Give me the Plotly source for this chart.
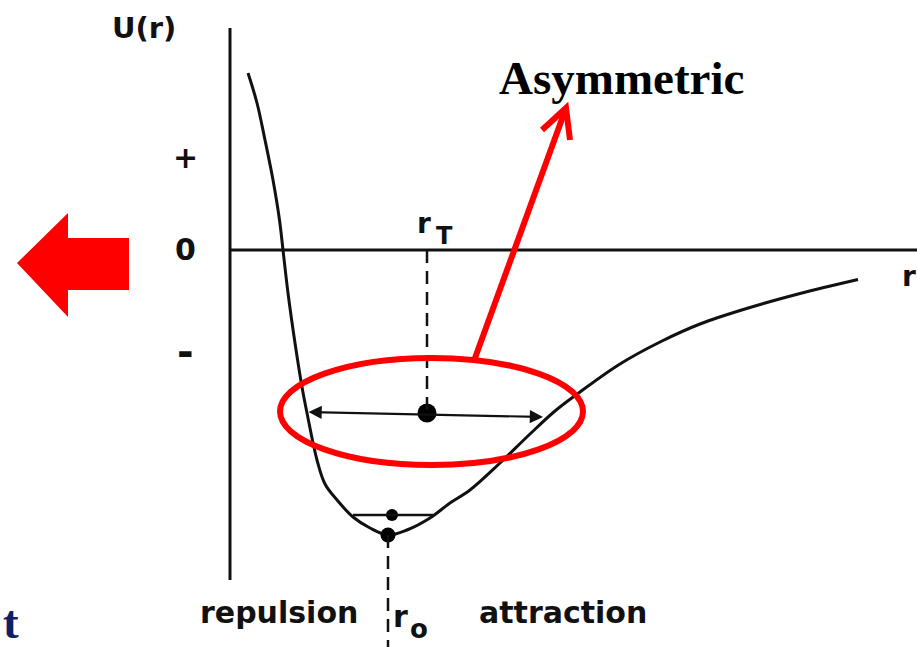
import plotly.graph_objects as go

# Potential-energy curve U(r) (r, U in arbitrary units)
r_curve = [0.16, 0.25, 0.33, 0.41, 0.475, 0.51, 0.56, 0.63, 0.70, 0.75, 0.85, 0.93, 1.05, 1.21, 1.38, 1.56,
           1.75, 1.98, 2.18, 2.38, 2.68, 2.98, 3.23, 3.48, 3.88, 4.28, 4.68, 5.18, 5.68, 6.26]
U_curve = [1.77, 1.47, 1.10, 0.70, 0.30, 0.00, -0.43, -0.93, -1.37, -1.63, -2.10, -2.34, -2.50, -2.67, -2.78, -2.85,
           -2.80, -2.68, -2.53, -2.40, -2.13, -1.84, -1.61, -1.42, -1.14, -0.92, -0.74, -0.575, -0.435, -0.295]

# Characteristic points
r0, U0 = 1.56, -2.85          # equilibrium (minimum)
rT, UT = 1.95, -1.63          # mean position at temperature T
r_vib0 = [1.21, 2.01]         # ground vibration level extent
U_vib0 = -2.65
r_vibT = [0.75, 3.11]         # vibration extent at T

# Axis tick labels
tick_labels = ["+", "0", "-"]
tick_U = [0.93, 0.01, -1.02]
tick_size = [30, 30, 40]

fig = go.Figure()

RED = "#ff0000"
INK = "#111111"
LBL = dict(family="DejaVu Sans", color=INK, weight="bold")

# Curve
fig.add_trace(go.Scatter(x=r_curve, y=U_curve, mode="lines",
                         line=dict(color=INK, width=3, shape="spline", smoothing=1.0),
                         hoverinfo="skip", showlegend=False))

# Axes
fig.add_shape(type="line", x0=-0.02, y0=2.22, x1=-0.02, y1=-3.30, line=dict(color=INK, width=3))
fig.add_shape(type="line", x0=-0.02, y0=0, x1=6.9, y1=0, line=dict(color=INK, width=3))

# Dashed guides
fig.add_shape(type="line", x0=rT, y0=0, x1=rT, y1=UT, line=dict(color=INK, width=2.5, dash="13px,8px"))
fig.add_shape(type="line", x0=r0, y0=U0, x1=r0, y1=-4.0, line=dict(color=INK, width=2.5, dash="13px,8px"))

# Ground level line
fig.add_shape(type="line", x0=r_vib0[0], y0=U_vib0, x1=r_vib0[1], y1=U_vib0, line=dict(color=INK, width=2.5))

# Double arrow at temperature T
fig.add_annotation(x=r_vibT[1], y=UT - 0.04, ax=r_vibT[0], ay=UT + 0.01, xref="x", yref="y", axref="x", ayref="y",
                   text="", showarrow=True, arrowhead=2, arrowsize=1.2, arrowwidth=2.2, arrowcolor=INK,
                   arrowside="end+start", startarrowhead=2, startarrowsize=1.2)

# Points
fig.add_trace(go.Scatter(x=[rT, 1.60, r0], y=[UT, U_vib0, U0], mode="markers",
                         marker=dict(color="#000000", size=[19, 12, 15], opacity=1, line=dict(width=0)),
                         hoverinfo="skip", showlegend=False))

# Red ellipse and arrow
fig.add_shape(type="circle", x0=0.48, y0=-2.15, x1=3.51, y1=-1.08, line=dict(color=RED, width=6))
fig.add_shape(type="line", x0=2.43, y0=-1.08, x1=3.34, y1=1.42, line=dict(color=RED, width=6))
fig.add_shape(type="path", path="M 3.10,1.20 L 3.34,1.42 L 3.38,1.10", line=dict(color=RED, width=6))

# Big red block arrow on the left
fig.add_shape(type="path",
              path="M -2.15,-0.13 L -1.64,0.37 L -1.64,0.12 L -1.03,0.12 L -1.03,-0.40 L -1.64,-0.40 L -1.64,-0.67 Z",
              fillcolor=RED, line=dict(color=RED, width=0))

# Labels
fig.add_annotation(x=-0.88, y=2.22, text="U(r)", showarrow=False, font=dict(size=29, **LBL))
for t, u, s in zip(tick_labels, tick_U, tick_size):
    fig.add_annotation(x=-0.47, y=u, text=t, showarrow=False, font=dict(size=s, **LBL))
fig.add_annotation(x=1.92, y=0.27, text="r", showarrow=False, font=dict(size=28, **LBL))
fig.add_annotation(x=2.12, y=0.14, text="T", showarrow=False, font=dict(size=24, **LBL))
fig.add_annotation(x=6.85, y=-0.26, text="r", showarrow=False, xanchor="right", borderpad=0,
                   font=dict(size=28, **LBL))
fig.add_annotation(x=0.47, y=-3.62, text="repulsion", showarrow=False, font=dict(size=30, **LBL))
fig.add_annotation(x=1.68, y=-3.66, text="r", showarrow=False, font=dict(size=30, **LBL))
fig.add_annotation(x=1.87, y=-3.79, text="o", showarrow=False, font=dict(size=26, **LBL))
fig.add_annotation(x=3.31, y=-3.62, text="attraction", showarrow=False, font=dict(size=30, **LBL))

fig.add_annotation(x=3.89, y=1.72, text="Asymmetric", showarrow=False,
                   font=dict(family="Liberation Serif", size=47, color="#000000", weight="bold"))
fig.add_annotation(x=-2.31, y=-3.72, text="t", showarrow=False, xanchor="left",
                   font=dict(family="Liberation Serif", size=47, color="#0d1f66", weight="bold"))

fig.update_layout(
    width=917, height=647,
    margin=dict(l=0, r=0, t=0, b=0),
    paper_bgcolor="white", plot_bgcolor="white",
    xaxis=dict(range=[-2.32, 6.85], visible=False, fixedrange=True),
    yaxis=dict(range=[-3.97, 2.50], visible=False, fixedrange=True),
    showlegend=False,
)

fig.write_html("out.html", config={"displayModeBar": False},
               post_script="document.body.style.margin='0';document.body.style.overflow='hidden';")
